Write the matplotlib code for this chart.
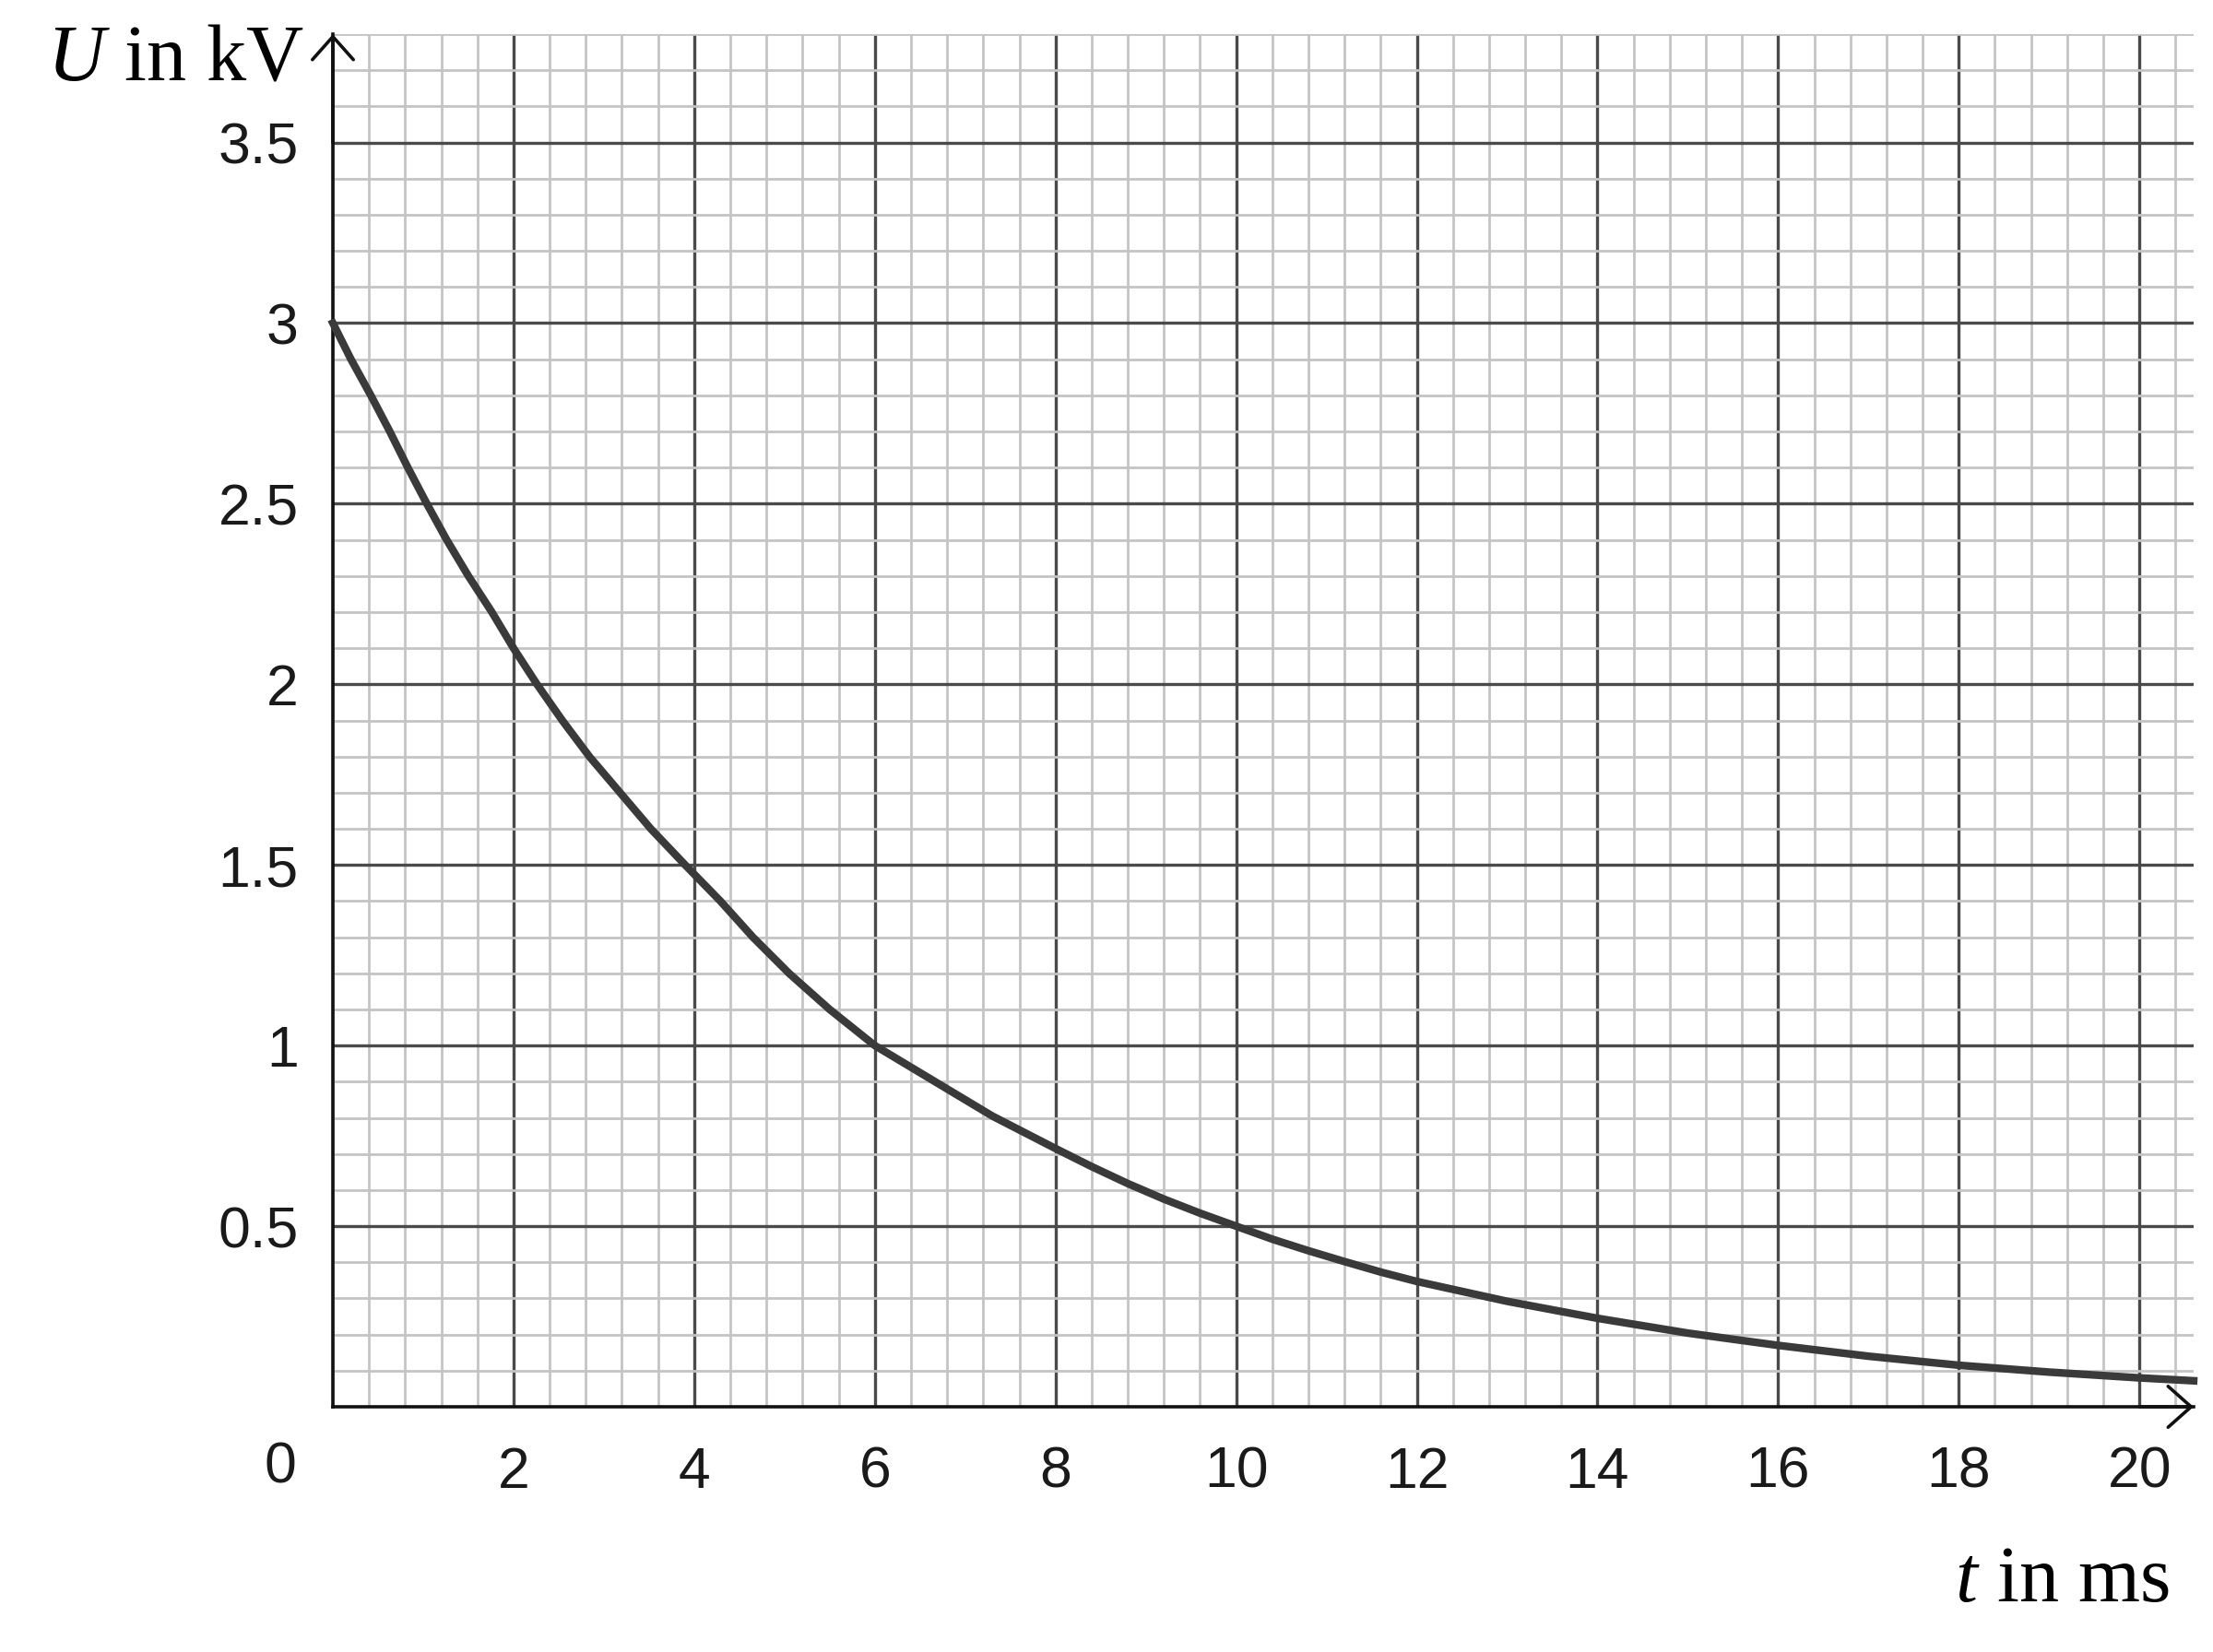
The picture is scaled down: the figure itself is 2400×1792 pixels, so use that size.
import numpy as np
import matplotlib
matplotlib.use("Agg")
import matplotlib.pyplot as plt
from matplotlib.ticker import MultipleLocator

# values (t in ms, U in kV)
t_ms = [0, 0.2, 0.42, 0.63, 0.83, 1.04, 1.26, 1.5, 1.76, 2.0, 2.26, 2.54, 2.84,
        3.18, 3.52, 3.9, 4.29, 4.65, 5.05, 5.5, 6.0, 6.6, 7.3, 8.0, 8.4, 8.8,
        9.2, 9.6, 10.0, 10.4, 10.8, 11.2, 11.6, 12.0, 13.0, 14.0, 15.0, 16.0,
        17.0, 18.0, 19.0, 20.0, 20.6]
u_kv = [3.0, 2.9, 2.8, 2.7, 2.6, 2.5, 2.4, 2.3, 2.2, 2.1, 2.0, 1.9, 1.8,
        1.7, 1.6, 1.5, 1.4, 1.3, 1.2, 1.1, 1.0, 0.91, 0.805, 0.715, 0.665, 0.618,
        0.575, 0.536, 0.5, 0.464, 0.432, 0.402, 0.373, 0.347, 0.292, 0.245, 0.204, 0.17,
        0.14, 0.115, 0.096, 0.08, 0.072]

x_ticks = [2, 4, 6, 8, 10, 12, 14, 16, 18, 20]
y_ticks = [0.5, 1, 1.5, 2, 2.5, 3, 3.5]
y_labels = ["0.5", "1", "1.5", "2", "2.5", "3", "3.5"]

plt.rcParams["mathtext.fontset"] = "custom"
plt.rcParams["mathtext.rm"] = "Liberation Serif"
plt.rcParams["mathtext.it"] = "Liberation Serif:italic"

W, H = 2400, 1792
fig = plt.figure(figsize=(12, 8.96), dpi=200)
ax = fig.add_axes([361 / W, 1 - 1526 / H, (2379 - 361) / W, (1526 - 37) / H])

ax.set_xlim(0, 20.6)
ax.set_ylim(0, 3.8)

# graph paper grid
ax.xaxis.set_minor_locator(MultipleLocator(0.4))
ax.yaxis.set_minor_locator(MultipleLocator(0.1))
ax.set_xticks(x_ticks)
ax.set_yticks(y_ticks)
ax.grid(which="minor", color="#c4c4c4", linewidth=1.0, zorder=0)
ax.grid(which="major", color="#4a4a4a", linewidth=1.2, zorder=1)
ax.set_axisbelow(True)

ax.set_xticklabels([str(v) for v in x_ticks])
ax.set_yticklabels(y_labels)
ax.tick_params(which="both", length=0, labelsize=22.5, colors="#1a1a1a")
ax.tick_params(axis="x", pad=15)
ax.tick_params(axis="y", pad=13.5)
for lab in ax.get_xticklabels() + ax.get_yticklabels():
    lab.set_fontfamily("Liberation Sans")

for side in ["top", "right"]:
    ax.spines[side].set_visible(False)
for side in ["left", "bottom"]:
    ax.spines[side].set_linewidth(1.3)
    ax.spines[side].set_color("#111111")

# open arrow heads at the axis ends
head = "->,head_length=0.9,head_width=0.8"
ax.annotate("", xy=(0, 3.8), xytext=(0, 3.5),
            arrowprops=dict(arrowstyle=head, color="#111111", lw=1.3,
                            shrinkA=0, shrinkB=0),
            annotation_clip=False)
ax.annotate("", xy=(20.6, 0), xytext=(20.0, 0),
            arrowprops=dict(arrowstyle=head, color="#111111", lw=1.3,
                            shrinkA=0, shrinkB=0),
            annotation_clip=False)

ax.plot(t_ms, u_kv, color="#3a3a3a", linewidth=3.0, solid_joinstyle="round",
        zorder=5, clip_on=False)

# origin label shared by both axes
fig.text(321 / W, 1 - 1592 / H, "0", ha="right", va="center",
         fontsize=22.5, family="Liberation Sans", color="#1a1a1a")

fig.text(330 / W, 1 - 86 / H, "$U$ in kV", ha="right", va="baseline",
         fontsize=31, family="Liberation Serif")
fig.text(2353 / W, 1 - 1737 / H, "$t$ in ms", ha="right", va="baseline",
         fontsize=31, family="Liberation Serif")

fig.savefig("out.png", dpi=200, facecolor="white")
